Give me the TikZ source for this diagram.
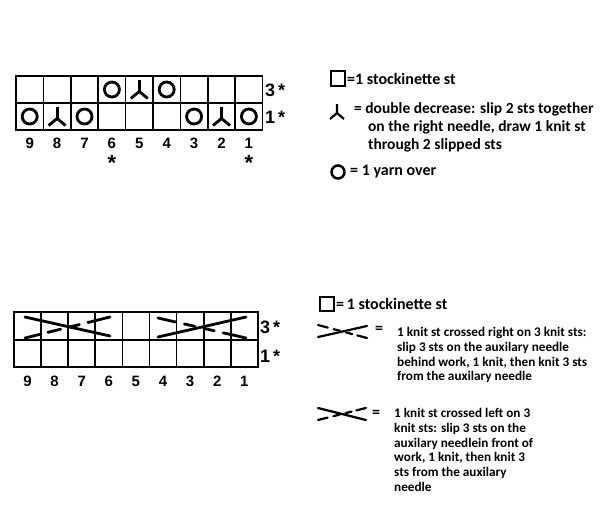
\documentclass[tikz,border=0pt]{standalone}
\usepackage{fontspec}
\usetikzlibrary{calc}
\setmainfont{Carlito}
\newfontfamily\numf{Liberation Sans}
\begin{document}
\begin{tikzpicture}[x=1pt,y=-1pt,
  grid/.style={line width=1.7pt},
  yo/.style={line width=2.8pt},
  dd/.style={line width=2.8pt},
  cab/.style={line width=2.8pt,line cap=round},
  num/.style={font=\numf\bfseries\fontsize{15}{15}\selectfont,inner sep=0},
  rowl/.style={font=\numf\bfseries\fontsize{18}{18}\selectfont,inner sep=0,anchor=west},
  leg/.style={font=\bfseries\fontsize{13.2}{14.8}\selectfont,align=left,anchor=north west,inner sep=0},
  legbig/.style={font=\bfseries\fontsize{16}{16}\selectfont,anchor=west,inner sep=0}]
\useasboundingbox[fill=white] (0,0) rectangle (600,525);
% ---------- top chart ----------
\def\cw{27.4}
\draw[grid] (16,76) rectangle (262.6,130);
\draw[grid] (16,103) -- (262.6,103);
\foreach \i in {1,...,8} \draw[grid] (16+\i*\cw,76) -- (16+\i*\cw,130);
\foreach \n [count=\k from 0] in {9,8,7,6,5,4,3,2,1}
  \node[num] (tn\n) at (16+\k*\cw+13.7,143) {\n};
\node[num,font=\numf\bfseries\fontsize{22}{22}\selectfont] (ts6) at (16+3*\cw+13.7,163) {*};
\node[num,font=\numf\bfseries\fontsize{22}{22}\selectfont] (ts1) at (16+8*\cw+13.7,163) {*};
\node[rowl] (tr3) at (265,90) {3\,*};
\node[rowl] (tr1) at (265,117) {1\,*};
% symbols: yarn overs & double decreases
\foreach \c/\r in {0/116.5,2/116.5,6/116.5,8/116.5,3/89.5,5/89.5}
  \draw[yo] (16+\c*\cw+13.7,\r) circle (7.5);
\foreach \c/\r in {1/116.5,7/116.5,4/89.5}{
  \draw[dd] (16+\c*\cw+13.7,\r-10) -- (16+\c*\cw+13.7,\r+2);
  \draw[dd] (16+\c*\cw+5.2,\r+9) -- (16+\c*\cw+13.7,\r+2) -- (16+\c*\cw+22.2,\r+9);}
% top legend
\draw[line width=2pt] (331,71) rectangle (345,86);
\node[legbig] (l1) at (347,79) {=1 stockinette st};
\draw[dd,line width=2.2pt] (337,104) -- (337,113) (330,119) -- (337,113) -- (344,119);
\node[leg,font=\bfseries\fontsize{15.5}{18}\selectfont] (l2) at (354,102) {= double decrease: slip 2 sts together\\\hspace{0.9em}on the right needle, draw 1 knit st\\\hspace{0.9em}through 2 slipped sts};
\draw[yo,line width=2.5pt] (338,172) circle (6.5);
\node[legbig] (l3) at (350,172) {= 1 yarn over};
% ---------- bottom chart ----------
\def\bw{27.1}
\draw[grid] (14,312) rectangle (257.9,367);
\draw[grid] (14,340) -- (257.9,340);
\foreach \i in {1,...,8} \draw[grid] (14+\i*\bw,312) -- (14+\i*\bw,367);
\foreach \n [count=\k from 0] in {9,8,7,6,5,4,3,2,1}
  \node[num] (bn\n) at (14+\k*\bw+13.5,381) {\n};
\node[rowl] (br3) at (260,327) {3\,*};
\node[rowl] (br1) at (260,356) {1\,*};
% left cable (cells 9-6)
\draw[cab] (25,317) -- (110,336);
\foreach \a/\b in {0.0/0.17,0.27/0.42,0.52/0.64,0.74/1.0}
  \draw[cab] ($(25,338)!\a!(110,317)$) -- ($(25,338)!\b!(110,317)$);
% right cable (cells 4-1)
\draw[cab] (158,337) -- (246,317);
\foreach \a/\b in {0.0/0.2,0.3/0.42,0.52/0.64,0.74/1.0}
  \draw[cab] ($(158,318)!\a!(246,338)$) -- ($(158,318)!\b!(246,338)$);
% bottom legend
\draw[line width=2pt] (320,297) rectangle (334,311);
\node[legbig] (l4) at (336,304) {=\,1 stockinette st};
\draw[cab,line width=2.2pt] (318,337) -- (367,326);
\foreach \a/\b in {0.0/0.2,0.32/0.45,0.57/0.7,0.8/1.0}
  \draw[cab,line width=2.2pt] ($(318,325)!\a!(367,338)$) -- ($(318,325)!\b!(367,338)$);
\node[legbig] (e1) at (375,330) {=};
\node[leg] (l5) at (397,327) {1 knit st crossed right on 3 knit sts:\\slip 3 sts on the auxilary needle\\behind work, 1 knit, then knit 3 sts\\from the auxilary needle};
\draw[cab,line width=2.2pt] (318,408) -- (366,420);
\foreach \a/\b in {0.0/0.2,0.32/0.45,0.57/0.7,0.8/1.0}
  \draw[cab,line width=2.2pt] ($(318,420)!\a!(366,408)$) -- ($(318,420)!\b!(366,408)$);
\node[legbig] (e2) at (372,414) {=};
\node[leg] (l6) at (394,408) {1 knit st crossed left on 3\\knit sts: slip 3 sts on the\\auxilary needlein front of\\work, 1 knit, then knit 3\\sts from the auxilary\\needle};
\end{tikzpicture}
\end{document}
